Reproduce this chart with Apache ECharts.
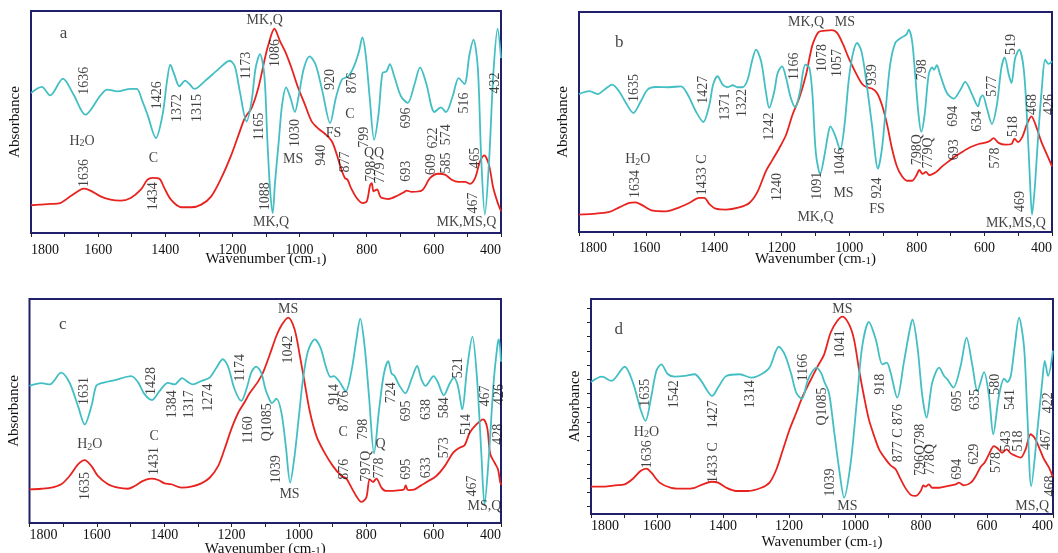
<!DOCTYPE html>
<html><head><meta charset="utf-8">
<script src="https://cdn.jsdelivr.net/npm/echarts@6/dist/echarts.min.js"></script>
<style>html,body{margin:0;padding:0;background:#fff}#c{width:1058px;height:553px}</style>
</head><body><div id="c"></div>
<script>
// ---------- tick labels ----------
const xLabels = [1800,1600,1400,1200,1000,800,600,400];
const xTicks = [1800,1700,1600,1500,1400,1300,1200,1100,1000,900,800,700,600,500,400];
const dYTicks = [3.4,9.9,16.4,23.1,29.8,36.3,42.9,49.5,56.1,62.6,69.3,75.8,82.5,89.1,95.7];

// ---------- spectra: [wavenumber, absorbance (a.u.)] ----------
const aCyan = [[1800,63.1],[1768,65.8],[1743,62.0],[1705,69.5],[1673,62.3],[1638,53.3],[1593,62.0],[1573,64.6],[1543,63.8],[1503,64.9],[1485,64.9],[1468,59.3],[1453,53.3],[1428,42.8],[1408,53.3],[1395,68.3],[1385,75.8],[1373,71.3],[1358,66.1],[1341,68.6],[1328,67.1],[1313,64.9],[1283,68.3],[1243,73.6],[1208,77.6],[1193,75.1],[1178,63.8],[1158,50.3],[1143,59.3],[1131,74.3],[1118,80.6],[1105,71.3],[1096,42],[1088,20],[1080,9.0],[1073,23],[1062,41.3],[1052,57.8],[1040,65.6],[1027,60.8],[1014,54.5],[1002,62.3],[987,74.3],[970,79.6],[952,75.8],[932,63.8],[909,49.5],[892,60.8],[874,69.1],[855,70.6],[838,75.1],[823,81.8],[813,88.1],[803,80.3],[791,60.8],[778,42.0],[765,53.3],[753,72.1],[741,72.8],[731,76.1],[718,70.6],[698,61.6],[678,58.6],[658,66.8],[641,74.6],[623,67.6],[598,54.5],[579,56.6],[564,54.5],[544,61.6],[526,69.8],[509,67.1],[494,80.3],[482,87.1],[469,74.3],[459,33.8],[448,8.3],[435,33.8],[423,71.3],[410,92.0],[400,78.8]];
const aRed = [[1800,12.5],[1773,12.8],[1743,13.1],[1713,13.5],[1683,16.5],[1653,19.5],[1641,20.0],[1623,19.1],[1593,16.5],[1563,15.0],[1533,14.6],[1503,15.8],[1473,19.5],[1453,24.0],[1438,24.8],[1418,24.5],[1403,20.3],[1383,15.0],[1353,11.6],[1323,11.6],[1293,12.8],[1263,16.5],[1233,24.8],[1203,35.3],[1178,45.8],[1163,51.8],[1143,56.3],[1123,65.3],[1103,78.8],[1093,84.8],[1075,92.0],[1058,86.3],[1043,81.8],[1024,74.3],[1004,65.3],[984,57.8],[964,50.3],[944,47.0],[924,44.6],[904,41.3],[889,35.3],[877,29.3],[865,24.8],[857,24.0],[847,20.3],[830,15.8],[813,13.5],[800,14.2],[790,21.5],[785,22.5],[780,18.8],[775,19.2],[769,19.6],[760,16.5],[755,15.8],[736,15.3],[706,17.0],[690,18.3],[681,19.1],[666,18.5],[636,19.1],[611,24.8],[587,26.7],[567,26.3],[547,24.0],[527,23.0],[507,23.0],[492,22.1],[477,24.8],[463,32.0],[450,35.0],[436,30.8],[423,20.3],[408,12.8],[400,9.8]];

const bCyan = [[1800,62.7],[1769,64.0],[1745,62.7],[1725,64.7],[1702,67.0],[1681,63.9],[1661,58.6],[1639,54.1],[1617,59.4],[1597,64.7],[1572,65.9],[1533,65.8],[1498,66.2],[1478,62.4],[1454,54.8],[1432,50.0],[1414,57.9],[1403,67.0],[1390,70.8],[1375,67.0],[1360,65.8],[1345,66.7],[1331,65.8],[1316,65.8],[1301,69.2],[1288,77.6],[1276,82.9],[1261,77.6],[1247,63.9],[1237,56.4],[1222,63.9],[1212,72.3],[1199,75.3],[1187,70.0],[1173,60.9],[1160,56.7],[1146,63.9],[1130,76.1],[1118,74.5],[1109,62.4],[1099,36],[1086,26.4],[1073,35.2],[1063,44.2],[1056,48.0],[1041,43.5],[1027,37.4],[1014,48.8],[1002,68.5],[990,80.6],[977,85.9],[964,82.1],[951,70.0],[933,48.8],[915,28.8],[903,38.2],[891,57.9],[879,76.1],[864,85.9],[844,88.5],[831,89.7],[824,92.0],[814,86.7],[805,71.5],[795,53.3],[787,45.5],[777,53.3],[765,71.5],[755,74.8],[749,73.8],[741,75.8],[731,71.5],[711,63.2],[691,60.6],[671,64.7],[657,68.2],[637,62.7],[619,57.1],[612,60.9],[605,62.1],[593,56.4],[578,49.1],[563,57.9],[550,74.5],[540,79.4],[528,71.5],[520,67.7],[509,79.1],[497,82.9],[484,74.5],[474,51.8],[466,26.1],[459,7.9],[451,20.0],[442,41.2],[430,65.5],[420,78.3],[410,76.4],[400,77.6]];
const bRed = [[1800,7.9],[1760,8.2],[1710,9.1],[1681,11.2],[1651,13.2],[1633,13.5],[1612,12.1],[1582,9.7],[1543,9.4],[1503,11.2],[1474,13.2],[1444,15.5],[1429,15.5],[1414,12.7],[1395,10.6],[1365,10.2],[1326,11.2],[1296,13.2],[1271,18.5],[1247,27.6],[1227,32.9],[1207,38.2],[1187,44.2],[1168,53.3],[1148,60.9],[1128,71.5],[1118,79],[1108,85.5],[1091,90.9],[1071,91.5],[1051,91.8],[1036,90.5],[1017,84.8],[1002,79.1],[982,72.7],[962,67.3],[948,65.8],[933,65.2],[918,63.2],[903,57.6],[888,48.8],[874,38.2],[859,29.8],[844,25.3],[829,23.3],[814,23.3],[800,26.1],[793,28.2],[783,26.4],[773,27.3],[763,25.8],[745,27.0],[726,29.7],[706,32.1],[686,34.4],[666,36.4],[642,38.5],[617,40.0],[597,40.6],[583,41.5],[573,42.7],[558,40.5],[538,39.7],[520,40.0],[511,42.4],[501,40.9],[487,43.5],[474,49.1],[461,52.6],[447,48.0],[432,41.2],[415,35.2],[400,29.8]];

const cCyan = [[1800,61.2],[1765,62.4],[1740,61.9],[1706,67.1],[1681,62.6],[1656,52.2],[1636,44.0],[1616,52.2],[1602,61.2],[1587,62.4],[1547,63.8],[1498,65.6],[1478,62.9],[1458,57.4],[1436,54.9],[1414,58.9],[1389,62.6],[1369,61.9],[1347,64.7],[1329,62.9],[1315,61.9],[1290,63.4],[1265,64.9],[1245,69.3],[1226,73.1],[1211,70.1],[1191,59.7],[1171,54.5],[1156,59.7],[1141,67.4],[1127,69.8],[1112,67.1],[1100,60],[1092,56.7],[1080,53.5],[1067,55.5],[1052,49.3],[1039,34.4],[1026,18.0],[1013,29.9],[1000,47.8],[988,64.1],[973,76.8],[953,82.0],[936,78.3],[919,69.3],[906,65.2],[897,65.6],[881,63.4],[861,58.9],[844,67.9],[830,81.3],[818,91.2],[805,79.0],[792,56.7],[777,31.1],[762,50.7],[748,66.4],[735,72.3],[725,66.8],[716,65.6],[701,61.2],[684,57.9],[666,64.1],[649,70.1],[637,64.4],[624,61.2],[600,65.6],[587,62.6],[570,57.0],[552,62.4],[540,64.9],[528,61.2],[515,50.7],[501,68.6],[485,83.2],[471,64.1],[458,29.9],[449,8.3],[436,29.9],[422,62.6],[410,80],[406,82],[400,72]];
const cRed = [[1800,15.0],[1765,15.3],[1735,15.8],[1706,17.3],[1681,21.0],[1656,26.2],[1636,28.1],[1616,25.4],[1597,21.0],[1567,17.3],[1537,15.8],[1508,15.3],[1488,16.5],[1463,18.8],[1438,19.8],[1418,19.2],[1399,17.7],[1379,17.3],[1349,15.8],[1320,16.2],[1290,17.7],[1265,20.2],[1240,25.4],[1221,32.9],[1201,41.8],[1181,49.0],[1161,54],[1146,58],[1122,63],[1107,67],[1087,75],[1067,83.5],[1052,88.2],[1032,91.7],[1013,86.5],[998,75.3],[983,62.6],[968,50.0],[948,38.8],[924,31.4],[899,25.4],[874,21.0],[859,19.8],[844,15.8],[830,12.1],[815,9.4],[800,11.3],[790,19.5],[780,18.3],[770,19.8],[755,15.8],[742,14.3],[721,14.3],[696,14.7],[688,15],[683,16.8],[678,15],[673,14.7],[656,15.0],[637,16.8],[617,18.6],[592,21.0],[567,25.4],[542,31.4],[523,33.6],[508,34.7],[493,40.3],[473,44.0],[453,46.3],[441,42.6],[432,30.8],[419,26.9],[409,24.0],[402,18.0],[398,17]];

const dCyan = [[1800,61.4],[1767,63.9],[1738,61.9],[1698,68.5],[1673,61.1],[1650,48.7],[1635,43.3],[1617,54.9],[1602,66.5],[1587,69.6],[1567,65.0],[1546,63.9],[1516,64.2],[1486,65.0],[1466,61.9],[1447,57.2],[1433,54.9],[1415,58.8],[1390,64.2],[1349,65.0],[1314,63.4],[1284,65.0],[1259,68.1],[1231,77.8],[1213,74.3],[1193,65.0],[1178,56.4],[1161,53.6],[1142,62.6],[1117,68.1],[1102,65.4],[1094,61.9],[1079,56.4],[1064,39.4],[1048,20.8],[1033,7.6],[1013,23.9],[993,54.9],[978,78.1],[958,89.3],[937,81.2],[917,69.6],[904,70.4],[892,65.7],[872,54.1],[852,70.4],[836,84.3],[826,90.5],[811,78.1],[796,54.9],[783,44.8],[766,61.1],[745,68.1],[730,64.2],[720,62.6],[702,58.8],[680,68.8],[662,82.0],[644,68.8],[629,57.2],[609,66.0],[594,54.9],[581,37.1],[564,54.9],[548,62.9],[538,61.4],[528,64.2],[516,78.1],[503,91.3],[488,78.1],[478,47.1],[466,13.0],[447,39.4],[432,62.6],[425,71.2],[415,64.2],[400,76]];
const dRed = [[1800,12.7],[1759,12.7],[1728,13.3],[1698,13.8],[1673,16.4],[1650,20.0],[1632,21.1],[1617,19.2],[1592,14.6],[1557,12.2],[1516,11.8],[1486,12.2],[1461,13.8],[1435,15.0],[1415,14.6],[1390,12.2],[1360,10.7],[1324,10.7],[1284,12.2],[1259,14.6],[1238,20.8],[1218,30.1],[1198,39.4],[1178,47.1],[1158,54.9],[1137,61.5],[1112,69],[1094,74],[1074,84.3],[1054,89.8],[1038,91.8],[1018,88.2],[1003,81.2],[988,67.3],[973,54.9],[958,44.0],[942,36.3],[927,30.1],[907,25.4],[892,22.6],[877,20.8],[864,16.9],[846,11.8],[829,8.7],[816,8.4],[801,10.7],[793,13.3],[786,12.7],[776,13.8],[766,12.2],[745,12.2],[720,13.0],[695,13.8],[685,14.6],[670,13.3],[649,14.6],[634,17.7],[619,22.0],[607,23.9],[594,27.8],[579,31.6],[569,30.7],[554,28.5],[540,30.1],[528,28.2],[513,27.0],[498,26.2],[483,30.1],[468,37.1],[456,35.5],[442,30.9],[427,25.4],[412,21.6],[400,17]];

// ---------- peak annotations: [text, wavenumber, absorbance] ----------
const aVert = [['1636',1641,68.6],['1426',1425,62.0],['1372',1363,56.3],['1315',1306,56.3],['1173',1160,75.5],['1165',1120,48.0],['1636',1641,27.0],['1434',1435,16.5],['1088',1103,16.5],['1086',1073,81.1],['1030',1014,45.0],['920',909,69.1],['940',934,35.0],['876',843,67.6],['799',807,43.1],['877',865,32.0],['798',787,27.8],['779',760,27.0],['696',681,51.8],['693',681,27.8],['622',602,42.8],['574',562,44.3],['609',608,30.8],['585',562,31.5],['516',509,58.6],['465',477,33.8],['467',482,13.5],['432',418,67.6]];
const aHorz = [['H{s|2}O',1648,41.3],['C',1435,33.8],['MK,Q',1104,95.6],['MK,Q',1085,4.8],['MS',1019,33.0],['FS',899,45.0],['C',850,53.3],['QQ',778,36.0],['MK,MS,Q',503,4.8]];
const bVert = [['1635',1636,65.5],['1427',1432,64.7],['1371',1367,57.1],['1322',1318,58.6],['1242',1237,48.0],['1166',1163,75.3],['1634',1633,21.8],['1433 C',1436,26],['1240',1212,20.5],['1078',1081,79.1],['1057',1036,76.8],['939',933,71.5],['1091',1095,21],['1046',1027,32.1],['924',918,20.0],['798',785,73.8],['798Q',800,37.4],['779Q',767,35.9],['694',691,52.6],['693',688,37.4],['634',622,50.3],['577',576,66.2],['519',520,85.2],['518',513,48.0],['578',568,33.6],['468',457,57.9],['426',408,57.9],['469',494,13.9]];
const bHorz = [['H{s|2}O',1626,32.9],['MK,Q',1128,95.5],['MS',1013,95.5],['MS',1017,17.7],['MK,Q',1100,6.5],['FS',918,10.2],['MK,MS,Q',507,4.1]];
const cVert = [['1631',1636,58.9],['1428',1438,63.4],['1384',1377,53.0],['1317',1324,53.0],['1274',1270,56.0],['1174',1173,69.3],['1160',1150,41.5],['1431',1430,27.7],['1635',1634,16.5],['1042',1032,77.5],['Q1085',1095,45],['1039',1067,24.0],['914',894,57.4],['876',864,54.5],['798',810,41.8],['876',864,24.0],['797Q',800,25.4],['778',762,24.6],['724',726,58.2],['695',681,50.0],['638',622,50.7],['584',567,51.5],['521',528,69.3],['695',681,24.0],['633',622,24.7],['573',567,33.6],['514',503,44.0],['467',446,56.7],['426',404,57.4],['428',409,39.6],['467',485,16.5]];
const cHorz = [['H{s|2}O',1621,35.1],['C',1430,38.8],['MS',1032,95.4],['MS',1028,12.8],['C',869,40.3],['Q',758,35.1],['MS,Q',449,7.6]];
const dVert = [['1635',1635,56.4],['1542',1546,55.7],['1314',1316,55.7],['1166',1158,68.1],['1636',1629,27.8],['1427',1430,46.4],['1433 C',1430,23.9],['Q1085',1100,50],['1039',1074,14.6],['1041',1043,78.9],['918',922,60.3],['877 C 876',870,37.6],['796Q798',801,29.8],['778Q',771,25.4],['694',690,20.8],['695',690,52.6],['635',634,53.3],['580',574,60.3],['541',528,53.3],['629',637,27.8],['578',571,23.9],['543',540,34.0],['518',506,34.0],['468',409,13.0],['467',419,34.7],['422',415,51.8]];
const dHorz = [['H{s|2}O',1632,38.1],['MS',1038,95.2],['MS',1023,3.7],['MS,Q',463,3.7]];
const letters = [['a',1703,90],['b',1681,86],['c',1701,88.7],['d',1716,86]];

// ---------- layout / style ----------
const FONT = "'Liberation Serif','Times New Roman',serif";
const CYAN = '#43bfc4', RED = '#e8231f', NAVY = '#20206a';
const grids = [
  {left:31, top:11, width:470, height:222},
  {left:579, top:12, width:473, height:220},
  {left:29.5, top:299, width:471.5, height:224},
  {left:591, top:299, width:462, height:215}
];
const labelMargin = [10,9.7,5.3,5.3];
const nameGap = [18.5,20,18.5,20.2];
const panels = [
  [aCyan,aRed,aVert,aHorz],[bCyan,bRed,bVert,bHorz],[cCyan,cRed,cVert,cHorz],[dCyan,dRed,dVert,dHorz]
];

const option = {
  animation:false,
  backgroundColor:'#fff',
  grid: grids.map(g => Object.assign({show:true, borderColor:NAVY, borderWidth:2, backgroundColor:'#fff',
    containLabel:false, outerBoundsMode:'none'}, g)),
  xAxis: grids.map((g,i) => ({
    gridIndex:i, type:'value', inverse:true, min:400, max:1800,
    axisLine:{show:false}, splitLine:{show:false},
    axisTick:{show:true, length:4, customValues:xTicks, lineStyle:{color:'#222', width:1}},
    axisLabel:{customValues:xLabels, margin:labelMargin[i], fontSize:14, fontFamily:FONT, color:'#111',
      formatter: v => String(v),
      alignMinLabel:'left', alignMaxLabel:'right', showMinLabel:true, showMaxLabel:true},
    name:'Wavenumber (cm{s|-1})', nameLocation:'middle', nameGap:nameGap[i], nameMoveOverlap:false,
    nameTextStyle:{fontSize:15, fontFamily:FONT, color:'#111', rich:{s:{fontSize:11, fontFamily:FONT, color:'#111', padding:[4,0,0,0]}}}
  })),
  yAxis: grids.map((g,i) => ({
    gridIndex:i, type:'value', min:0, max:100,
    axisLine:{show:false}, axisLabel:{show:false}, splitLine:{show:false},
    axisTick: i===3 ? {show:true, length:4, customValues:dYTicks, lineStyle:{color:'#222'}} : {show:false},
    name:'Absorbance', nameLocation:'middle', nameRotate:90, nameGap:8, nameMoveOverlap:false,
    nameTextStyle:{fontSize:15, fontFamily:FONT, color:'#111'}
  })),
  series: []
};

const labelBase = {show:true, position:'inside', color:'#111', fontFamily:FONT, fontSize:14};
panels.forEach((p,i) => {
  option.series.push({type:'line', xAxisIndex:i, yAxisIndex:i, data:p[0], showSymbol:false, smooth:0.3,
    lineStyle:{color:CYAN, width:1.8}, itemStyle:{color:CYAN}, silent:true, z:3});
  option.series.push({type:'line', xAxisIndex:i, yAxisIndex:i, data:p[1], showSymbol:false, smooth:0.3,
    lineStyle:{color:RED, width:1.8}, itemStyle:{color:RED}, silent:true, z:2});
  option.series.push({type:'scatter', xAxisIndex:i, yAxisIndex:i, symbolSize:0, silent:true, clip:false, z:5,
    data:p[2].map(a => ({value:[a[1],a[2]], name:a[0]})),
    label:Object.assign({}, labelBase, {rotate:90, formatter:q => q.name})});
  option.series.push({type:'scatter', xAxisIndex:i, yAxisIndex:i, symbolSize:0, silent:true, clip:false, z:5,
    data:p[3].map(a => ({value:[a[1],a[2]], name:a[0]})),
    label:Object.assign({}, labelBase, {formatter:q => q.name, rich:{s:{fontSize:10, fontFamily:FONT, color:'#111', padding:[5,0,0,0]}}})});
  const L = letters[i];
  option.series.push({type:'scatter', xAxisIndex:i, yAxisIndex:i, symbolSize:0, silent:true, z:5,
    data:[{value:[L[1],L[2]], name:L[0]}],
    label:Object.assign({}, labelBase, {fontSize:17, formatter:q => q.name})});
});

const chart = echarts.init(document.getElementById('c'), null, {renderer:'canvas'});
chart.setOption(option);
</script>
</body></html>
